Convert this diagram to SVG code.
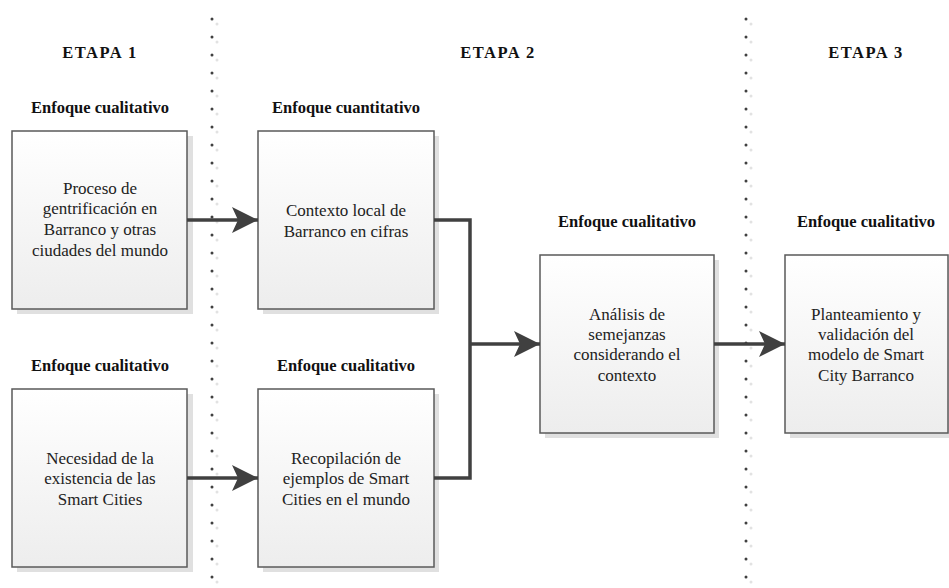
<svg xmlns="http://www.w3.org/2000/svg" width="949" height="588" viewBox="0 0 949 588">
<defs>
<linearGradient id="g" x1="0" y1="0" x2="0" y2="1">
<stop offset="0" stop-color="#ffffff"/>
<stop offset="1" stop-color="#ededed"/>
</linearGradient>
<marker id="ah" markerWidth="26" markerHeight="26" refX="26" refY="13" orient="auto" markerUnits="userSpaceOnUse">
<path d="M0,0 L26,13 L0,26 L6,13 Z" fill="#404040"/>
</marker>
</defs>
<style>
.sh{fill:#e0e0e0}
.bx{fill:url(#g);stroke:#5a5a5a;stroke-width:1.5}
text{font-family:'Liberation Serif','Times New Roman',serif}
.t{font-size:17px;fill:#222;text-anchor:middle}
.h{font-size:16.5px;font-weight:bold;fill:#111;text-anchor:middle}
.e{letter-spacing:1.5px}
.c{fill:none;stroke:#404040;stroke-width:3.5}
.d{stroke:#404040;stroke-width:3;stroke-linecap:round;stroke-dasharray:0 18}
.ds{stroke:#e2e2e2;stroke-width:3;stroke-linecap:round;stroke-dasharray:0 18}
</style>
<g id="dividers">
<line class="ds" x1="217" y1="24" x2="217" y2="590"/>
<line class="d" x1="212" y1="19" x2="212" y2="590"/>
<line class="ds" x1="751" y1="24" x2="751" y2="590"/>
<line class="d" x1="746" y1="19" x2="746" y2="590"/>
</g>
<g id="headers">
<text class="h e" x="100" y="58">ETAPA 1</text>
<text class="h e" x="498" y="58">ETAPA 2</text>
<text class="h e" x="866" y="58">ETAPA 3</text>
</g>
<g id="n1">
<text class="h" x="100" y="113">Enfoque cualitativo</text>
<rect class="sh" x="17" y="136" width="176" height="178"/>
<rect class="bx" x="12" y="131" width="175" height="178"/>
<text class="t" x="100" y="194">Proceso de</text>
<text class="t" x="100" y="214">gentrificación en</text>
<text class="t" x="100" y="235">Barranco y otras</text>
<text class="t" x="100" y="256">ciudades del mundo</text>
</g>
<g id="n2">
<text class="h" x="346" y="113">Enfoque cuantitativo</text>
<rect class="sh" x="263" y="136" width="176" height="178"/>
<rect class="bx" x="258" y="131" width="176" height="178"/>
<text class="t" x="346" y="216">Contexto local de</text>
<text class="t" x="346" y="237">Barranco en cifras</text>
</g>
<g id="n3">
<text class="h" x="100" y="371">Enfoque cualitativo</text>
<rect class="sh" x="17" y="394" width="176" height="178"/>
<rect class="bx" x="12" y="389" width="175" height="178"/>
<text class="t" x="100" y="464">Necesidad de la</text>
<text class="t" x="100" y="484">existencia de las</text>
<text class="t" x="100" y="505">Smart Cities</text>
</g>
<g id="n4">
<text class="h" x="346" y="371">Enfoque cualitativo</text>
<rect class="sh" x="263" y="394" width="176" height="178"/>
<rect class="bx" x="258" y="389" width="176" height="178"/>
<text class="t" x="346" y="464">Recopilación de</text>
<text class="t" x="346" y="484">ejemplos de Smart</text>
<text class="t" x="346" y="505">Cities en el mundo</text>
</g>
<g id="n5">
<text class="h" x="627" y="227">Enfoque cualitativo</text>
<rect class="sh" x="545" y="260" width="174" height="178"/>
<rect class="bx" x="540" y="255" width="174" height="178"/>
<text class="t" x="627" y="320">Análisis de</text>
<text class="t" x="627" y="340">semejanzas</text>
<text class="t" x="627" y="360">considerando el</text>
<text class="t" x="627" y="381">contexto</text>
</g>
<g id="n6">
<text class="h" x="866" y="227">Enfoque cualitativo</text>
<rect class="sh" x="790" y="260" width="164" height="178"/>
<rect class="bx" x="785" y="255" width="163" height="178"/>
<text class="t" x="866" y="320">Planteamiento y</text>
<text class="t" x="866" y="340">validación del</text>
<text class="t" x="866" y="360">modelo de Smart</text>
<text class="t" x="866" y="381">City Barranco</text>
</g>
<g id="connectors">
<line class="c" x1="187" y1="220" x2="258" y2="220" marker-end="url(#ah)"/>
<line class="c" x1="187" y1="478" x2="258" y2="478" marker-end="url(#ah)"/>
<polyline class="c" points="434,220 470,220 470,478 434,478"/>
<line class="c" x1="470" y1="344" x2="540" y2="344" marker-end="url(#ah)"/>
<line class="c" x1="714" y1="344" x2="785" y2="344" marker-end="url(#ah)"/>
</g>
</svg>
